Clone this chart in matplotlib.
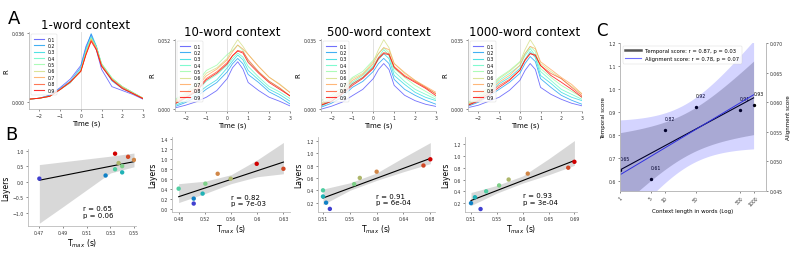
import numpy as np
import matplotlib.pyplot as plt
from matplotlib.lines import Line2D

# ---- data ----
layers = [0.1, 0.2, 0.3, 0.4, 0.5, 0.6, 0.7, 0.8, 0.9]
times = [-2.5, -2, -1.5, -1, -0.5, 0, 0.25, 0.5, 0.75, 1, 1.5, 2, 2.5, 3]

# R values (x 1e-3), one row per layer
r_1word = [
    [1.5, 2.0, 3.5, 7.5, 12.0, 19.0, 29.0, 35.0, 27.0, 17.0, 8.0, 6.0, 4.0, 1.5],
    [1.5, 2.0, 3.5, 7.0, 11.0, 18.0, 28.0, 35.5, 29.0, 19.0, 11.0, 7.0, 4.5, 1.8],
    [1.5, 2.0, 3.0, 6.5, 10.0, 17.0, 27.0, 34.0, 29.0, 19.5, 12.0, 8.0, 5.0, 2.0],
    [1.5, 2.0, 3.0, 6.5, 10.5, 16.5, 26.5, 33.5, 28.5, 20.0, 12.5, 8.0, 5.0, 2.0],
    [1.5, 2.0, 3.0, 6.5, 10.5, 16.5, 26.0, 33.0, 28.5, 20.0, 12.5, 8.0, 5.0, 2.0],
    [1.5, 2.0, 3.0, 6.5, 10.5, 16.0, 25.5, 33.0, 28.0, 19.5, 12.0, 8.0, 5.0, 2.0],
    [1.5, 2.0, 3.0, 6.5, 10.5, 16.0, 25.0, 32.5, 28.0, 19.0, 12.0, 7.5, 4.5, 2.0],
    [1.5, 2.0, 3.0, 6.5, 10.5, 16.0, 25.0, 32.0, 27.5, 19.0, 11.5, 7.5, 4.5, 1.8],
    [1.5, 2.0, 3.0, 6.5, 10.5, 16.0, 24.5, 31.5, 27.0, 18.5, 11.5, 7.0, 4.5, 1.8],
]
r_10word = [
    [1, 3, 5.5, 9, 14, 23, 31, 35.5, 30, 20, 14, 9, 6, 2.5],
    [2, 5, 9, 15, 20, 28, 34, 38, 34, 26, 20, 13, 9, 4],
    [3, 6, 11, 17, 22, 31, 36, 40.5, 37, 29, 22, 15, 11, 6],
    [4, 8, 13, 21, 26, 33, 38, 42, 39, 32, 24, 17, 13, 8],
    [7.5, 12, 19, 29, 33, 41, 44, 48, 44, 36, 28, 21, 16, 10],
    [6.5, 11, 17, 27, 31, 38, 46, 52, 47, 41, 32, 24, 19, 12.5],
    [5.5, 10, 16, 25, 30, 37, 43, 48, 45, 41, 32, 24, 18.5, 12.5],
    [4.5, 9, 14, 23, 28, 35, 40, 44, 43, 37, 28, 21, 16, 10],
    [4, 8.5, 13, 22, 27, 34, 40, 43.5, 42, 35, 27, 20, 15, 10],
]
r_500word = [
    [0, 1.5, 3.5, 6.8, 10, 15.4, 20, 23, 20, 12, 7, 4.3, 2.5, 1.4],
    [1, 3, 6, 11, 14, 19, 23, 25.6, 23, 15, 10, 7, 4.5, 2.5],
    [1.5, 4, 7.5, 12.8, 16, 21.3, 25, 28, 25.5, 17, 12.5, 8.5, 6, 4.3],
    [2, 5, 9, 13.6, 17, 22, 26, 30, 27, 19, 14, 10, 7.5, 5],
    [4.3, 7, 11, 16, 19, 24.7, 28, 31, 28.5, 20.5, 16, 12, 9, 6],
    [3, 6, 9.5, 15.4, 18, 23.9, 30, 35, 31, 23, 18, 14.5, 11, 7.7],
    [2.5, 5, 9, 14.5, 17.5, 23, 28, 31, 30, 23, 18.5, 14.5, 11.5, 8.5],
    [2, 4, 8, 12.8, 16, 21, 26, 28.5, 28, 21.5, 17, 14, 11, 7.7],
    [2, 4, 7.5, 12, 15.5, 20.5, 25.5, 28, 27.5, 21, 16.5, 13.5, 10.5, 6.8],
]
r_1000word = [
    [0.8, 2, 4, 6, 9.5, 14.5, 19.5, 23, 20, 11, 7.5, 5, 3, 1.7],
    [1.5, 3.5, 6.5, 10, 13.5, 18, 23, 26.5, 24, 15.4, 11, 7, 4.5, 2.5],
    [2, 4.5, 8, 12.8, 16, 20.5, 25, 29, 26, 17, 13, 8.5, 6, 4.3],
    [2.5, 5.5, 9.5, 14.5, 18, 22, 27, 30.5, 27, 19, 14.5, 10, 7.5, 5],
    [3.4, 7, 11, 16, 19.5, 23.9, 28, 31.6, 29, 20.5, 16, 12, 9, 6],
    [3, 6, 10, 15.4, 19, 23.5, 30, 35, 31, 23, 19, 15.4, 11.5, 7.7],
    [2.5, 5, 9, 13.6, 17, 22, 28, 31.6, 30.5, 23.9, 20, 16, 12.5, 7.7],
    [2, 4.5, 8, 11.9, 15, 19.6, 25, 28, 27.5, 22, 18, 15.4, 11, 6.8],
    [2, 4, 7, 11, 14.5, 19.6, 24.5, 28, 27, 22, 17, 13.6, 10, 6],
]
titles = ["1-word context", "10-word context", "500-word context", "1000-word context"]
r_tops = [0.036, 0.052, 0.035, 0.035]

# T_max (s) per layer
tmax_1word = [0.470, 0.526, 0.540, 0.534, 0.540, 0.537, 0.550, 0.545, 0.534]
tmax_10word = [0.503, 0.503, 0.516, 0.481, 0.520, 0.557, 0.538, 0.634, 0.595]
tmax_500word = [0.521, 0.515, 0.510, 0.510, 0.560, 0.569, 0.596, 0.671, 0.682]
tmax_1000word = [0.525, 0.508, 0.515, 0.535, 0.558, 0.575, 0.609, 0.681, 0.692]
stats_txt = ["r = 0.65\np = 0.06", "r = 0.82\np = 7e-03", "r = 0.91\np = 6e-04", "r = 0.93\np = 3e-04"]

# confidence band edges read at the five x ticks of each B panel
band_lo = [[-1.33, -0.80, -0.26, 0.28, 0.48],
           [0.12, 0.30, 0.50, 0.64, 0.70],
           [0.17, 0.40, 0.56, 0.70, 0.83],
           [0.16, 0.37, 0.54, 0.68, 0.84]]
band_hi = [[0.55, 0.64, 0.73, 0.82, 0.92],
           [0.50, 0.55, 0.68, 0.98, 1.33],
           [0.42, 0.52, 0.68, 0.93, 1.17],
           [0.38, 0.50, 0.66, 0.95, 1.26]]

context = [1, 5, 10, 50, 500, 1000]
temporal = [0.65, 0.61, 0.82, 0.92, 0.91, 0.93]
alignment = [0.0479, 0.0444, 0.0563, 0.0605, 0.0588, 0.0595]

# ---- helpers ----
W, H = 793, 255
fig = plt.figure(figsize=(W / 100, H / 100), dpi=100)


def box(l, r, t, b):
    return fig.add_axes([l / W, 1 - b / H, (r - l) / W, (b - t) / H])


def fit_band(x, y, xs):
    x = np.asarray(x, float)
    y = np.asarray(y, float)
    n = len(x)
    b, a = np.polyfit(x, y, 1)
    res = y - (a + b * x)
    s = np.sqrt(np.sum(res ** 2) / (n - 2))
    se = s * np.sqrt(1 / n + (xs - x.mean()) ** 2 / np.sum((x - x.mean()) ** 2))
    t = {4: 2.776, 7: 2.365}[n - 2]
    yh = a + b * xs
    return yh, yh - t * se, yh + t * se


def style(ax, sides=("left", "bottom")):
    for k, sp in ax.spines.items():
        sp.set_visible(k in sides)
        sp.set_color("#bbbbbb")
        sp.set_linewidth(0.6)
    ax.tick_params(labelsize=3.3, length=1.5, width=0.4, pad=1.5, colors="#333333")


colors = plt.cm.rainbow(np.linspace(0.1, 1, 9))
dot_colors = colors[:, :3] * 0.82

# ---- panel A ----
a_boxes = [(29, 143, 33, 110), (175, 290, 40, 112), (321, 436, 40, 112), (468, 582, 40, 112)]
a_lows = [-0.0036, -0.0013, -0.0009, -0.0009]
for bx, title, curves, top, low in zip(a_boxes, titles,
                                       [r_1word, r_10word, r_500word, r_1000word],
                                       r_tops, a_lows):
    ax = box(*bx)
    ax.axvline(0, color="#dddddd", lw=0.6, zorder=0)
    for i, c in enumerate(curves):
        ax.plot(times, np.array(c) * 1e-3, color=colors[i], lw=0.6, alpha=0.8,
                label=str(layers[i]))
    ax.set_xlim(-2.5, 3)
    ax.set_ylim(low, top * 1.01)
    ax.set_yticks([0, top], ["0.000", f"{top:.3f}"])
    ax.set_xticks([-2, -1, 0, 1, 2, 3])
    style(ax)
    ax.set_title(title, fontsize=8.5, pad=3)
    ax.set_xlabel("Time (s)", fontsize=5, labelpad=1)
    ax.set_ylabel("R", fontsize=5, labelpad=2)
    leg = ax.legend(loc="upper left", fontsize=3.3, handlelength=2.2, labelspacing=0.3,
                    borderpad=0.5, frameon=True, fancybox=True)
    leg.get_frame().set_linewidth(0.3)
    for ln in leg.get_lines():
        ln.set_linewidth(0.8)

# ---- panel B ----
b_boxes = [(28, 136, 150, 227), (172, 290, 138, 213), (318, 435, 138, 213), (465, 577, 138, 213)]
b_xlims = [(0.4604, 0.5517), (0.4713, 0.6436), (0.502, 0.6895), (0.4973, 0.6966)]
b_ylims = [(-1.42, 1.05), (-0.07, 1.44), (0.05, 1.26), (0.05, 1.32)]
b_yticks = [[-1.0, -0.5, 0.0, 0.5, 1.0], [0.0, 0.2, 0.4, 0.6, 0.8, 1.0, 1.2, 1.4],
            [0.2, 0.4, 0.6, 0.8, 1.0, 1.2], [0.2, 0.4, 0.6, 0.8, 1.0, 1.2]]
b_txt = [(0.51, 0.11), (0.5, 0.08), (0.5, 0.09), (0.52, 0.1)]
for k, (bx, tm) in enumerate(zip(b_boxes, [tmax_1word, tmax_10word, tmax_500word, tmax_1000word])):
    ax = box(*bx)
    ticks = np.linspace(min(tm), max(tm), 5)
    ax.fill_between(ticks, band_lo[k], band_hi[k], color="#c8c8c8", alpha=0.7, lw=0)
    xs = np.linspace(min(tm), max(tm), 100)
    yh, _, _ = fit_band(tm, layers, xs)
    ax.plot(xs, yh, color="black", lw=0.8)
    ax.scatter(tm, layers, c=dot_colors, s=10, zorder=3, lw=0)
    ax.set_xlim(*b_xlims[k])
    ax.set_ylim(*b_ylims[k])
    ax.set_yticks(b_yticks[k])
    ax.set_xticks(ticks, [str(round(v, 2)) for v in ticks])
    style(ax)
    ax.set_xlabel("T$_{max}$ (s)", fontsize=5.5, labelpad=1)
    ax.set_ylabel("Layers", fontsize=5.5, labelpad=2)
    ax.text(b_txt[k][0], b_txt[k][1], stats_txt[k], transform=ax.transAxes, fontsize=5,
            va="bottom", ha="left", linespacing=1.1)

# ---- panel C ----
axc = box(620, 766, 44, 192)
lx = np.log10(context)
xs = np.linspace(0, 3, 100)
yh, lo, hi = fit_band(lx, temporal, xs)
axc.fill_between(10 ** xs, lo, hi, color="black", alpha=0.2, lw=0)
axc.plot(10 ** xs, yh, color="black", lw=0.8)
axc.scatter(context, temporal, color="black", s=2, zorder=3)
for x, y in zip(context, temporal):
    axc.text(x, y + 0.05, f"{y:.2f}", fontsize=3.3, ha="left", va="center")
axc.set_xscale("log")
axc.set_xlim(1, 1900)
axc.set_ylim(0.557, 1.2)
axc.set_xticks(context, [str(c) for c in context], rotation=45)
axc.minorticks_off()
axc.set_yticks([0.6, 0.7, 0.8, 0.9, 1.0, 1.1, 1.2])
style(axc, ("left", "bottom", "right"))
axc.set_xlabel("Context length in words (Log)", fontsize=4, labelpad=1)
axc.set_ylabel("Temporal score", fontsize=4, labelpad=2)

axc2 = axc.twinx()
yh2, lo2, hi2 = fit_band(lx, alignment, xs)
axc2.fill_between(10 ** xs, lo2, hi2, color="blue", alpha=0.17, lw=0)
axc2.plot(10 ** xs, yh2, color="#3030e0", lw=0.7)
axc2.set_ylim(0.045, 0.070)
axc2.set_yticks([0.045, 0.050, 0.055, 0.060, 0.065, 0.070])
axc2.set_yticklabels(["0.045", "0.050", "0.055", "0.060", "0.065", "0.070"])
style(axc2, ("left", "bottom", "right"))
axc2.set_ylabel("Alignment score", fontsize=4, labelpad=2)
handles = [Line2D([], [], color="#555555", lw=1.8),
           Line2D([], [], color="#7070ff", lw=0.8)]
leg = axc2.legend(handles, ["Temporal score: r = 0.87, p = 0.03",
                            "Alignment score: r = 0.78, p = 0.07"],
                  loc="upper left", fontsize=3.8, handlelength=3, borderpad=0.5,
                  labelspacing=0.5)
leg.get_frame().set_linewidth(0.3)

# ---- panel letters ----
fig.text(8 / W, 1 - 19 / H, "A", fontsize=13, va="center")
fig.text(5 / W, 1 - 135 / H, "B", fontsize=13, va="center")
fig.text(596 / W, 1 - 31 / H, "C", fontsize=12, va="center")

fig.savefig("out.png", dpi=100)
